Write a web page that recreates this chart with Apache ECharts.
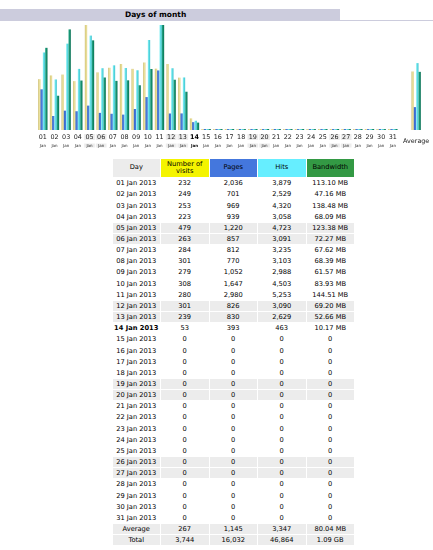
<!DOCTYPE html>
<html>
<head>
<meta charset="utf-8">
<script src="https://cdn.jsdelivr.net/npm/echarts@6/dist/echarts.min.js"></script>
<style>
body{margin:0;background:#fff;font-family:Verdana,"DejaVu Sans",sans-serif;}
#chart{position:absolute;left:0;top:0;width:433px;height:155px;}
#title{position:absolute;left:0;top:9px;width:340px;height:12px;background:#ccccdd;}
#title span{position:absolute;left:125px;top:0;line-height:12px;font-weight:bold;font-size:7.5px;color:#000;}
#rule{position:absolute;left:0;top:20px;width:433px;height:1px;background:#ccccdd;}
#tbl{position:absolute;left:111.5px;top:158.2px;border-collapse:separate;border-spacing:1.5px 1px;font-size:6.7px;color:#000;}
#tbl td,#tbl th{padding:0;text-align:center;height:10.15px;line-height:10.15px;white-space:nowrap;width:47.5px;}
#tbl th{height:18px;line-height:7.6px;font-weight:normal;color:#000;}
#tbl tr.g td{background:#ececec;}
</style>
</head>
<body>
<div id="chart"></div>
<div id="rule"></div>
<div id="title"><span>Days of month</span></div>
<table id="tbl"></table>
<script>
var days = ['01','02','03','04','05','06','07','08','09','10','11','12','13','14','15','16',
            '17','18','19','20','21','22','23','24','25','26','27','28','29','30','31'];
var month = 'Jan';
var year = '2013';
var weekendDays = ['05','06','12','13','19','20','26','27'];
var today = '14';

var visits = [232,249,253,223,479,263,284,301,279,308,280,301,239,53,0,0,0,0,0,0,0,0,0,0,0,0,0,0,0,0,0];
var pages = [2036,701,969,939,1220,857,812,770,1052,1647,2980,826,830,393,0,0,0,0,0,0,0,0,0,0,0,0,0,0,0,0,0];
var hits = [3879,2529,4320,3058,4723,3091,3235,3103,2988,4503,5253,3090,2629,463,0,0,0,0,0,0,0,0,0,0,0,0,0,0,0,0,0];
var bandwidth = [113.10,47.16,138.48,68.09,123.38,72.27,67.62,68.39,61.57,83.93,144.51,69.20,52.66,10.17,0,0,0,0,0,0,0,0,0,0,0,0,0,0,0,0,0];

var avgRow = [267,1145,3347,80.04];
var totalRow = [3744,16032,46864,'1.09 GB'];
var headers = ['Day','Number of<br>visits','Pages','Hits','Bandwidth'];
var headerColors = ['#ececec','#f4f400','#4477dd','#66eeff','#339944'];

var cats = days.concat(['', 'Average']);

function grad(a, b, c) {
    return new echarts.graphic.LinearGradient(0, 0, 1, 0, [
        {offset: 0, color: a}, {offset: 0.5, color: b}, {offset: 1, color: c}
    ]);
}

var myChart = echarts.init(document.getElementById('chart'));

var option = {
    animation: false,
    grid: {left: 37, right: 11, top: 25, bottom: 25},
    xAxis: {
        type: 'category',
        data: cats,
        axisLine: {show: false},
        axisTick: {show: false},
        axisLabel: {
            interval: 0,
            margin: 2,
            formatter: function (v) {
                if (v === 'Average') return '{avg|Average}';
                if (v === '') return '';
                var k = weekendDays.indexOf(v) >= 0 ? 'w' : (v === today ? 'b' : '');
                return '{d' + k + '|' + v + '}\n{m' + k + '|' + month + '}';
            },
            rich: {
                d: {fontSize: 6.4, lineHeight: 10, color: '#222', fontFamily: 'DejaVu Sans', width: 10.7, align: 'center'},
                m: {fontSize: 4, lineHeight: 7, color: '#222', fontFamily: 'DejaVu Sans', width: 10.7, align: 'center'},
                dw: {fontSize: 6.4, lineHeight: 10, color: '#222', fontFamily: 'DejaVu Sans', width: 10.7, align: 'center', backgroundColor: '#ececec'},
                mw: {fontSize: 4, lineHeight: 7, color: '#222', fontFamily: 'DejaVu Sans', width: 10.7, align: 'center', backgroundColor: '#ececec'},
                db: {fontSize: 6.4, lineHeight: 10, color: '#000', fontFamily: 'DejaVu Sans', fontWeight: 'bold', width: 10.7, align: 'center'},
                mb: {fontSize: 4, lineHeight: 7, color: '#000', fontFamily: 'DejaVu Sans', fontWeight: 'bold', width: 10.7, align: 'center'},
                avg: {fontSize: 6.4, lineHeight: 18, color: '#222', fontFamily: 'DejaVu Sans'}
            }
        }
    },
    yAxis: [
        {type: 'value', show: false, min: 0, max: Math.max.apply(null, visits)},
        {type: 'value', show: false, min: 0, max: Math.max.apply(null, hits)},
        {type: 'value', show: false, min: 0, max: Math.max.apply(null, bandwidth)}
    ],
    series: [
        {
            name: 'Number of visits', type: 'bar', yAxisIndex: 0,
            barGap: '0%', barCategoryGap: '20%', barMinHeight: 1,
            itemStyle: {color: grad('#c8b868', '#ece29e', '#e0d48a')},
            data: visits.concat([null, avgRow[0]])
        },
        {
            name: 'Pages', type: 'bar', yAxisIndex: 1, barMinHeight: 1,
            itemStyle: {color: grad('#2a55b8', '#4a80e0', '#3a6cd0')},
            data: pages.concat([null, avgRow[1]])
        },
        {
            name: 'Hits', type: 'bar', yAxisIndex: 1, barMinHeight: 1,
            itemStyle: {color: grad('#8af0f4', '#5edce4', '#3cc0cc')},
            data: hits.concat([null, avgRow[2]])
        },
        {
            name: 'Bandwidth', type: 'bar', yAxisIndex: 2, barMinHeight: 1,
            itemStyle: {color: grad('#2aa888', '#13906e', '#0a6e52')},
            data: bandwidth.concat([null, avgRow[3]])
        }
    ]
};

myChart.setOption(option);

// table under the chart
function num(v) { return v === 0 ? '0' : v.toLocaleString('en-US'); }
function mb(v) { return v === 0 ? '0' : v.toFixed(2) + ' MB'; }

var html = '<tr>';
for (var h = 0; h < headers.length; h++) {
    html += '<th style="background:' + headerColors[h] + '">' + headers[h] + '</th>';
}
html += '</tr>';
for (var i = 0; i < days.length; i++) {
    var cls = weekendDays.indexOf(days[i]) >= 0 ? ' class="g"' : '';
    var label = days[i] + ' ' + month + ' ' + year;
    if (days[i] === today) label = '<b>' + label + '</b>';
    html += '<tr' + cls + '><td>' + label + '</td><td>' + num(visits[i]) + '</td><td>' + num(pages[i]) +
        '</td><td>' + num(hits[i]) + '</td><td>' + mb(bandwidth[i]) + '</td></tr>';
}
html += '<tr class="g"><td>Average</td><td>' + num(avgRow[0]) + '</td><td>' + num(avgRow[1]) +
    '</td><td>' + num(avgRow[2]) + '</td><td>' + mb(avgRow[3]) + '</td></tr>';
html += '<tr class="g"><td>Total</td><td>' + num(totalRow[0]) + '</td><td>' + num(totalRow[1]) +
    '</td><td>' + num(totalRow[2]) + '</td><td>' + totalRow[3] + '</td></tr>';
document.getElementById('tbl').innerHTML = html;
</script>
</body>
</html>
